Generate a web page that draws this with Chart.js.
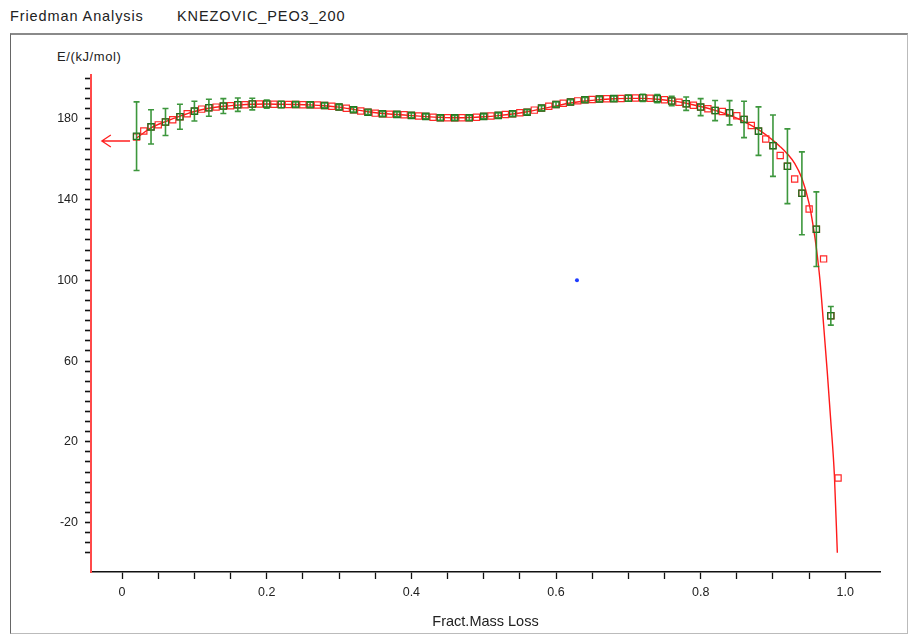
<!DOCTYPE html>
<html>
<head>
<meta charset="utf-8">
<script src="https://cdn.jsdelivr.net/npm/chart.js@4.4.1/dist/chart.umd.min.js"></script>
<style>
html,body{margin:0;padding:0;background:#fff;width:909px;height:635px;overflow:hidden;font-family:"Liberation Sans",Arial,Helvetica,sans-serif;}
.title{position:absolute;top:8px;font-size:14.5px;color:#222;white-space:pre;letter-spacing:0.9px;}
#frame{position:absolute;left:10px;top:33px;width:896px;height:598px;border-top:2px solid #8a8a8a;border-left:1px solid #666;border-right:1px solid #bbb;border-bottom:1px solid #bbb;}
#ylab{position:absolute;left:57px;top:49px;font-size:13px;color:#222;white-space:pre;letter-spacing:0.6px;}
#wrap{position:absolute;left:0;top:0;width:909px;height:635px;}
</style>
</head>
<body>
<div class="title" style="left:10px">Friedman Analysis</div>
<div class="title" style="left:177px">KNEZOVIC_PEO3_200</div>
<div id="frame"></div>
<div id="ylab">E/(kJ/mol)</div>
<div id="wrap"><canvas id="c" width="909" height="635"></canvas></div>
<script>
// ---- data ----
const massLoss = [0.02,0.03,0.04,0.05,0.06,0.07,0.08,0.09,0.10,0.11,0.12,0.13,0.14,0.15,0.16,0.17,0.18,0.19,0.20,0.21,0.22,0.23,0.24,0.25,0.26,0.27,0.28,0.29,0.30,0.31,0.32,0.33,0.34,0.35,0.36,0.37,0.38,0.39,0.40,0.41,0.42,0.43,0.44,0.45,0.46,0.47,0.48,0.49,0.50,0.51,0.52,0.53,0.54,0.55,0.56,0.57,0.58,0.59,0.60,0.61,0.62,0.63,0.64,0.65,0.66,0.67,0.68,0.69,0.70,0.71,0.72,0.73,0.74,0.75,0.76,0.77,0.78,0.79,0.80,0.81,0.82,0.83,0.84,0.85,0.86,0.87,0.88,0.89,0.90,0.91,0.92,0.93,0.94,0.95,0.96,0.97,0.98,0.99];
const energy = [171,174,176,177,178.4,179.5,181,182.5,183.8,184.8,185.5,185.8,186.3,186.5,187,187,187.3,187.3,187.3,187.2,187.1,187.1,187.1,187,187,186.8,186.6,186.2,185.8,185.2,184.5,183.9,183.3,182.8,182.5,182.3,182.2,182,181.7,181.4,181.2,180.8,180.5,180.5,180.5,180.5,180.5,180.8,181.2,181.4,181.7,182.1,182.5,183,183.3,184.3,185.3,186.2,187.1,187.7,188.3,188.9,189.4,189.6,189.8,189.9,190,190.1,190.2,190.3,190.4,190.2,190,189.4,188.8,188.2,187.5,186.7,185.8,185,184.1,183.6,183,181.5,179.7,176.7,173.9,170,166.7,161.8,156.5,150.2,143.1,135.3,125.3,110.6,82.4,2.1];
const errMassLoss = [0.02,0.04,0.06,0.08,0.10,0.12,0.14,0.16,0.18,0.20,0.22,0.24,0.26,0.28,0.30,0.32,0.34,0.36,0.38,0.40,0.42,0.44,0.46,0.48,0.50,0.52,0.54,0.56,0.58,0.60,0.62,0.64,0.66,0.68,0.70,0.72,0.74,0.76,0.78,0.80,0.82,0.84,0.86,0.88,0.90,0.92,0.94,0.96,0.98];
const errEnergy = [171.4,176,178.4,181,183.8,185.5,186.3,187,187.3,187.3,187.1,187.1,187,186.6,185.8,184.5,183.3,182.5,182.2,181.7,181.2,180.5,180.5,180.5,181.2,181.7,182.5,183.3,185.3,187.1,188.3,189.4,189.8,190,190.2,190.4,190,188.8,187.5,185.8,184.1,183,179.7,173.9,166.7,156.5,143.1,125.3,82.4];
const errHalf = [17,8.5,6.7,6.2,4.9,4.2,3.7,3.3,2.9,2.0,1.6,1.3,1.2,1.2,1.2,1.2,1.2,1.2,1.2,1.2,1.2,1.2,1.2,1.2,1.2,1.2,1.2,1.2,1.2,1.2,1.2,1.2,1.2,1.3,1.5,1.8,2.0,2.3,3.3,4.2,5.0,6.0,9.0,12.0,15.2,18.5,20.5,18.5,4.6];
const fitMassLoss = [0.02,0.04,0.06,0.08,0.10,0.12,0.14,0.16,0.18,0.20,0.22,0.24,0.26,0.28,0.30,0.32,0.34,0.36,0.38,0.40,0.42,0.44,0.46,0.48,0.50,0.52,0.54,0.56,0.58,0.60,0.62,0.64,0.66,0.68,0.70,0.72,0.74,0.76,0.78,0.80,0.82,0.84,0.86,0.88,0.90,0.91,0.92,0.93,0.94,0.95,0.956,0.96,0.965,0.97,0.975,0.98,0.985,0.989];
const fitEnergy = [170.5,175.5,178.6,181.3,183.6,185.2,186.2,186.8,187.2,187.3,187.2,187.1,186.9,186.5,185.8,184.7,183.5,182.6,182.1,181.6,181.1,180.7,180.5,180.6,181.0,181.6,182.4,183.5,184.9,186.4,187.8,188.8,189.5,189.9,190.1,190.1,189.7,188.9,187.7,186.1,184.2,181.8,178.6,174.6,169.3,166.2,162.6,157.9,150.5,138,126,116,100,78,55,30,3,-35];
const markerMassLoss = [0.629];
const markerEnergy = [100];
const arrowEnergy = 169;
const arrowFrom = 0.011, arrowTo = -0.028;
const yLabelled = [180,140,100,60,20,-20];
const xLabelled = [0,0.2,0.4,0.6,0.8,1.0];

const pts = (xs, ys) => xs.map((x, i) => ({x: x, y: ys[i]}));

const errorBars = {
  id: 'errorBars',
  afterDatasetsDraw(chart) {
    const {ctx, scales: {x, y}} = chart;
    ctx.save();
    ctx.strokeStyle = 'rgba(40,140,40,0.9)';
    ctx.lineWidth = 1.6;
    errMassLoss.forEach((m, i) => {
      const px = x.getPixelForValue(m);
      const top = y.getPixelForValue(errEnergy[i] + errHalf[i]);
      const bot = y.getPixelForValue(errEnergy[i] - errHalf[i]);
      ctx.beginPath();
      ctx.moveTo(px, top); ctx.lineTo(px, bot);
      ctx.moveTo(px - 3, top); ctx.lineTo(px + 3, top);
      ctx.moveTo(px - 3, bot); ctx.lineTo(px + 3, bot);
      ctx.stroke();
    });
    // arrow pointing to the energy axis
    const ay = y.getPixelForValue(arrowEnergy);
    const x1 = x.getPixelForValue(arrowFrom), x0 = x.getPixelForValue(arrowTo);
    ctx.strokeStyle = '#ff2020';
    ctx.lineWidth = 1.3;
    ctx.beginPath();
    ctx.moveTo(x1, ay); ctx.lineTo(x0, ay);
    ctx.moveTo(x0 + 9, ay - 6); ctx.lineTo(x0, ay); ctx.lineTo(x0 + 9, ay + 6);
    ctx.stroke();
    ctx.restore();
  }
};

new Chart(document.getElementById('c'), {
  type: 'scatter',
  data: {
    datasets: [
      { label: 'marker', data: pts(markerMassLoss, markerEnergy), pointRadius: 2, pointBackgroundColor: '#1f3cff', pointBorderWidth: 0, order: 1 },
      { label: 'mean', data: pts(errMassLoss, errEnergy), pointStyle: 'rect', pointRadius: 4.4, pointBorderColor: '#1f6f1f', pointBackgroundColor: 'rgba(0,0,0,0)', pointBorderWidth: 1.3, order: 2 },
      { label: 'E', data: pts(massLoss, energy), pointStyle: 'rect', pointRadius: 4.4, pointBorderColor: '#ff2828', pointBackgroundColor: 'rgba(255,255,255,0)', pointBorderWidth: 1.2, order: 3 },
      { label: 'fit', type: 'line', data: pts(fitMassLoss, fitEnergy), borderColor: '#ff1a1a', borderWidth: 1.4, pointRadius: 0, fill: false, cubicInterpolationMode: 'monotone', order: 4 }
    ]
  },
  options: {
    responsive: false,
    animation: false,
    devicePixelRatio: 1,
    layout: { padding: { left: 0, top: 75, right: 29, bottom: 0 } },
    plugins: { legend: { display: false }, tooltip: { enabled: false } },
    scales: {
      x: {
        type: 'linear', position: 'bottom', min: -0.043, max: 1.048,
        afterFit(s) { s.height = 63; },
        afterBuildTicks(s) { s.ticks = s.ticks.filter(t => t.value >= -0.001 && t.value <= 1.001); },
        ticks: {
          stepSize: 0.05, includeBounds: false, autoSkip: false, maxRotation: 0, padding: 6,
          color: '#222', font: { family: 'Liberation Sans', size: 12.5 },
          callback(v) {
            const r = Math.round(v * 100) / 100;
            const hit = xLabelled.find(l => Math.abs(l - r) < 1e-6);
            if (hit === undefined) return '';
            return hit === 0 ? '0' : hit.toFixed(1);
          }
        },
        grid: { drawOnChartArea: false, drawTicks: true, tickLength: 7, tickColor: '#111', tickWidth: 1.3 },
        border: { display: true, color: '#111', width: 1.6 },
        title: { display: true, text: 'Fract.Mass Loss', color: '#222', font: { family: 'Liberation Sans', size: 14.5 }, padding: { top: 4 } }
      },
      y: {
        type: 'linear', position: 'left', min: -44.5, max: 201.7,
        afterFit(s) { s.width = 91; },
        afterBuildTicks(s) { s.ticks = s.ticks.filter(t => t.value >= -35.5 && t.value <= 200.5); },
        ticks: {
          stepSize: 5, includeBounds: false, autoSkip: false, padding: 7,
          color: '#222', font: { family: 'Liberation Sans', size: 12.5 },
          callback(v) {
            const r = Math.round(v);
            return yLabelled.includes(r) ? String(r) : '';
          }
        },
        grid: { drawOnChartArea: false, drawTicks: true, tickLength: 6, tickColor: '#111', tickWidth: 1.6 },
        border: { display: true, color: '#ff4a4a', width: 2 }
      }
    }
  },
  plugins: [errorBars]
});
</script>
</body>
</html>
